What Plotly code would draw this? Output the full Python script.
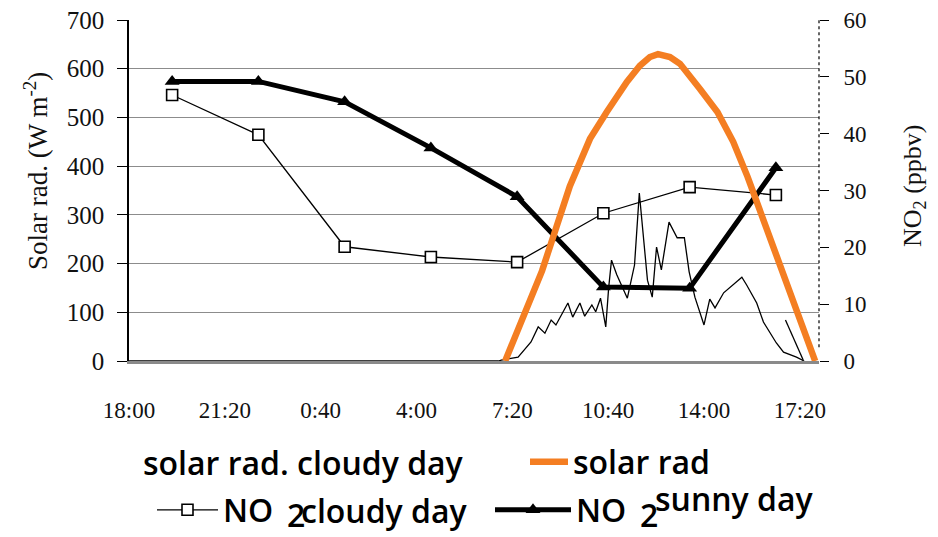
import plotly.graph_objects as go

# ---- data -------------------------------------------------------------
# time axis: minutes elapsed since 18:00 on the first day
tick_minutes = [0, 200, 400, 600, 800, 1000, 1200, 1400]
tick_labels = ["18:00", "21:20", "0:40", "4:00", "7:20", "10:40", "14:00", "17:20"]

# 3-hourly NO2 samples (ppbv)
no2_minutes = [90, 270, 450, 630, 810, 990, 1170, 1350]
no2_cloudy = [46.8, 39.8, 20.1, 18.3, 17.4, 26.0, 30.6, 29.2]
no2_sunny = [49.2, 49.2, 45.6, 37.5, 28.9, 13.0, 12.8, 34.0]

# solar radiation on the sunny day (W m-2)
sunny_rad_minutes = [785, 862, 920, 941, 962, 997, 1039, 1066, 1087, 1104,
                     1129, 1150, 1171, 1192, 1228, 1261, 1291, 1360, 1432]
sunny_rad = [0, 185, 359, 409, 456, 511, 573, 606, 624, 630,
             624, 610, 585, 558, 511, 450, 378, 197, 0]

# solar radiation on the cloudy day (W m-2); None splits the record
cloudy_rad_minutes = [0, 771, 777, 812, 839, 854, 868, 881, 891, 916, 926,
                      941, 951, 966, 974, 984, 995, 1001, 1007, 1018, 1040,
                      1055, 1065, 1076, 1082, 1092, 1101, 1111, 1127, 1144,
                      1159, 1169, 1181, 1200, 1212, 1223, 1241, 1279, 1289,
                      1310, 1324, 1351, 1366, 1393, 1409, None, 1370, 1407]
cloudy_rad = [0, 0, 2, 8, 39, 70, 57, 84, 74, 119, 90,
              119, 92, 115, 101, 129, 70, 150, 207, 177, 129,
              197, 345, 228, 166, 131, 234, 187, 285, 253,
              253, 183, 131, 74, 127, 109, 140, 172, 156,
              119, 80, 37, 18, 8, 0, None, 84, 2]

ORANGE = "#F47E22"
SERIF = "Liberation Serif"
SANS = "Open Sans"
KEY_FONT = dict(family=SANS, size=32, color="black", weight=600)

fig = go.Figure()

fig.add_trace(go.Scatter(
    x=cloudy_rad_minutes, y=cloudy_rad, yaxis="y", mode="lines",
    line=dict(color="black", width=1.3), connectgaps=False,
    name="solar rad. cloudy day", showlegend=False))

fig.add_trace(go.Scatter(
    x=no2_minutes, y=no2_cloudy, yaxis="y2", mode="lines+markers",
    line=dict(color="black", width=1.3),
    marker=dict(symbol="square", size=11, color="white",
                line=dict(color="black", width=1.6)),
    name="NO", legend="legend2"))

fig.add_trace(go.Scatter(
    x=no2_minutes, y=no2_sunny, yaxis="y2", mode="lines+markers",
    line=dict(color="black", width=5),
    marker=dict(symbol="triangle-up", size=13, color="black"),
    name="NO", legend="legend3"))

fig.add_trace(go.Scatter(
    x=sunny_rad_minutes, y=sunny_rad, yaxis="y3", mode="lines",
    line=dict(color=ORANGE, width=6.5),
    name="solar rad", legend="legend"))


# ---- positioning helpers (pixel -> paper) -------------------------------
def px_x(px):
    return (px - 129) / 690.0


def px_y(py):
    return (361 - py) / 341.0


key_texts = [
    ("solar rad. cloudy day", 141, 462),
    ("2", 285, 514),
    ("cloudy day", 299, 510),
    ("2", 638, 514),
    ("sunny day", 653, 498),
]
annotations = [
    dict(text=t, x=px_x(xp), y=px_y(yp), xref="paper", yref="paper",
         xanchor="left", yanchor="middle", showarrow=False, font=KEY_FONT)
    for t, xp, yp in key_texts
]

# axis titles
annotations += [
    dict(text="Solar rad. (W m<sup>-2</sup>)", textangle=-90,
         x=px_x(36), y=px_y(171), xref="paper", yref="paper",
         xanchor="center", yanchor="middle", showarrow=False,
         font=dict(family=SERIF, size=27, color="#111")),
    dict(text="NO<sub>2</sub> (ppbv)", textangle=-90,
         x=px_x(914), y=px_y(186), xref="paper", yref="paper",
         xanchor="center", yanchor="middle", showarrow=False,
         font=dict(family=SERIF, size=26, color="#111")),
]

legend_common = dict(orientation="h", bgcolor="rgba(0,0,0,0)",
                     font=KEY_FONT, xanchor="left", yanchor="middle",
                     borderwidth=0)

fig.update_layout(
    width=938, height=537,
    margin=dict(l=129, r=119, t=20, b=176, autoexpand=False),
    paper_bgcolor="white", plot_bgcolor="white",
    xaxis=dict(range=[0, 1440], tickvals=tick_minutes, ticktext=tick_labels,
               showgrid=False, zeroline=False, ticks="",
               showline=True, linecolor="#8a8a8a", linewidth=3,
               tickfont=dict(family=SERIF, size=23, color="#111"),
               ticklabelstandoff=26),
    yaxis=dict(range=[0, 700], dtick=100, showgrid=True,
               gridcolor="#8c8c8c", gridwidth=1.4, zeroline=False,
               showline=True, linecolor="black", linewidth=1.5,
               ticks="outside", ticklen=10, tickcolor="black",
               tickfont=dict(family=SERIF, size=25, color="#111"),
               ticklabelstandoff=8),
    yaxis2=dict(range=[0, 60], dtick=10, overlaying="y", side="right",
                showgrid=False, zeroline=False, showline=False,
                ticks="outside", ticklen=9, tickcolor="black",
                tickfont=dict(family=SERIF, size=23, color="#111"),
                ticklabelstandoff=10),
    yaxis3=dict(range=[0, 700], overlaying="y", visible=False),
    legend=dict(x=px_x(525), y=px_y(462), itemwidth=38, **legend_common),
    legend2=dict(x=px_x(152), y=px_y(510), itemwidth=61, **legend_common),
    legend3=dict(x=px_x(490), y=px_y(510), itemwidth=76, **legend_common),
    annotations=annotations,
    shapes=[dict(type="line", xref="paper", yref="paper",
                 x0=1, x1=1, y0=0.04, y1=1.0,
                 line=dict(color="black", width=1.2, dash="dot"))],
)

fig.write_html("out.html")
